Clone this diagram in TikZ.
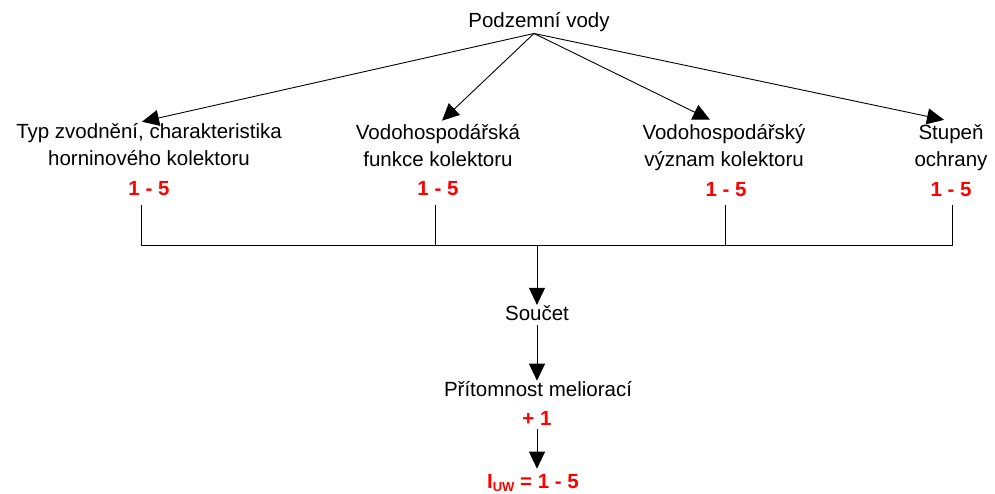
\documentclass[tikz,border=0pt]{standalone}
\usepackage{fontspec}
\setmainfont{Liberation Sans}
\usetikzlibrary{arrows.meta}
\definecolor{redval}{RGB}{255,0,0}
\begin{document}
\begin{tikzpicture}[x=1pt,y=-1pt,
  every node/.style={inner sep=0pt, font=\fontsize{20.5}{27}\selectfont},
  lbl/.style={anchor=base, align=center},
  val/.style={anchor=base, text=redval, font=\fontsize{20.5}{27}\selectfont\bfseries},
  arr/.style={draw=black, line width=0.9pt, -{Triangle[length=17pt,width=16pt]}},
  ln/.style={draw=black, line width=0.9pt}]
\useasboundingbox (0,0) rectangle (995,493);

% root and the four criteria (base anchor = baseline of the last line)
\node[lbl] (top) at (539,27) {Podzemní vody};
\node[lbl] (l1) at (149,165) {Typ zvodnění, charakteristika\\horninového kolektoru};
\node[lbl] (l2) at (438,166) {Vodohospodářská\\funkce kolektoru};
\node[lbl] (l3) at (724,166) {Vodohospodářský\\význam kolektoru};
\node[lbl] (l4) at (951,166) {Stupeň\\ochrany};

% score ranges
\node[val] (r1) at (149,195) {1 - 5};
\node[val] (r2) at (438,195) {1 - 5};
\node[val] (r3) at (726,196) {1 - 5};
\node[val] (r4) at (951,196) {1 - 5};

% lower chain
\node[lbl] (sum) at (537,320) {Součet};
\node[lbl] (pres) at (538,396) {Přítomnost meliorací};
\node[val] (plus) at (537,425) {+ 1};
\node[val] (iuw) at (533,488) {I\raisebox{-3pt}{\fontsize{13}{13}\selectfont UW} = 1 - 5};

\coordinate (src) at ([xshift=-5pt,yshift=-2pt]top.south);
\coordinate (busM) at (537,245);

% arrows from the root
\draw[arr] (src) -- ([xshift=-7pt,yshift=1pt]l1.north);
\draw[arr] (src) -- ([xshift=4pt,yshift=3pt]l2.north);
\draw[arr] (src) -- ([xshift=-14pt,yshift=4pt]l3.north);
\draw[arr] (src) -- ([xshift=-7pt,yshift=4pt]l4.north);

% collecting bus
\draw[ln] ([xshift=-8pt,yshift=-10pt]r1.south) |- ([xshift=1pt,yshift=-49pt]r4.south) -- ([xshift=1pt,yshift=-9pt]r4.south);
\draw[ln] ([xshift=-3pt,yshift=-10pt]r2.south) -- ([xshift=-3pt,yshift=-50pt]r2.south);
\draw[ln] ([xshift=-1pt,yshift=-9pt]r3.south) -- ([xshift=-1pt,yshift=-49pt]r3.south);

% chain to the result
\draw[arr] (busM) -- (sum.north);
\draw[arr] ([yshift=-5pt]sum.south) -- ([xshift=-1pt]pres.north);
\draw[arr, shorten >=5pt] ([yshift=-4pt]plus.south) -- ([xshift=4pt]iuw.north);
\end{tikzpicture}
\end{document}
